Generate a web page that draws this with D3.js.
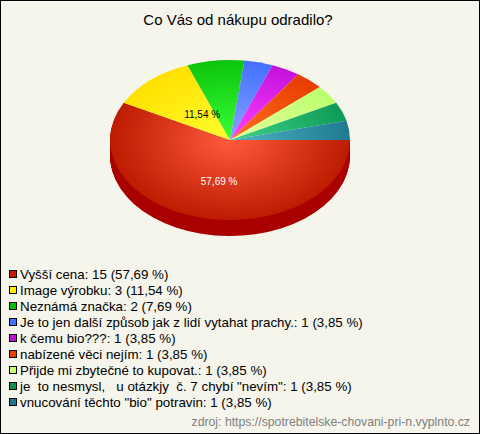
<!DOCTYPE html>
<html><head><meta charset="utf-8">
<script src="https://cdn.jsdelivr.net/npm/d3@7"></script>
<style>html,body{margin:0;padding:0;background:#f5f5ec}svg{display:block}text{font-family:"Liberation Sans",Arial,sans-serif}</style>
</head><body><svg id="c" width="480" height="434"></svg>
<script>
const titleText = "Co Vás od nákupu odradilo?";
const sourceText = "zdroj: https://spotrebitelske-chovani-pri-n.vyplnto.cz";
const categories = ["Vyšší cena","Image výrobku","Neznámá značka","Je to jen další způsob jak z lidí vytahat prachy.","k čemu bio???","nabízené věci nejím","Přijde mi zbytečné to kupovat.","je  to nesmysl,   u otázkjy  č. 7 chybí \"nevím\"","vnucování těchto \"bio\" potravin"];
const counts = [15,3,2,1,1,1,1,1,1];
const percents = ["57,69","11,54","7,69","3,85","3,85","3,85","3,85","3,85","3,85"];
const edgeColors = ["#bd1c00","#ffe000","#0cc40c","#4470ff","#c412dc","#e83c00","#bcff6c","#0e9a58","#1f7a90"];
const midColors = ["#ff5a3c","#ffff30","#38ff38","#84a4ff","#ff40ff","#ff7020","#e4ffa0","#40d488","#50b4c4"];
const swatchColors = ["#c01a00","#ffee00","#00c000","#4070ff","#c010d0","#e84000","#c8ff70","#109050","#207890"];
const sideColor = "#aa0000";
const labelled = [{i:0,fx:.38,fy:.53,fill:"#fff"},{i:1,fx:.35,fy:.42,fill:"#000"}];

const W=480,H=434,cx=230,cy=140,rx=120,ry=80,depth=16;
const svg=d3.select("#c");
svg.append("rect").attr("x",.5).attr("y",.5).attr("width",W-1).attr("height",H-1).attr("fill","#f5f5ec").attr("stroke","#000");
svg.append("text").attr("x",238).attr("y",25).attr("text-anchor","middle").attr("font-size",15).attr("fill","#000").text(titleText);

const defs=svg.append("defs");
categories.forEach((c,i)=>{
  const g=defs.append("radialGradient").attr("id","g"+i).attr("gradientUnits","userSpaceOnUse").attr("cx",0).attr("cy",0).attr("r",rx);
  g.append("stop").attr("offset","0").attr("stop-color",midColors[i]);
  g.append("stop").attr("offset","1").attr("stop-color",edgeColors[i]);
});
const pie=d3.pie().sort(null).startAngle(Math.PI/2).endAngle(Math.PI/2+2*Math.PI);
const arcs=pie(counts);
const arc=d3.arc().innerRadius(0).outerRadius(rx);
const sy=ry/rx;
const side=svg.append("g");
d3.range(depth,0,-1).forEach(d=>{
  side.append("g").attr("transform",`translate(${cx},${cy+d}) scale(1,${sy})`)
    .append("path").attr("d",arc(arcs[0])).attr("fill",sideColor);
});
svg.append("g").attr("transform",`translate(${cx},${cy}) scale(1,${sy})`)
  .selectAll("path").data(arcs).join("path").attr("d",arc).attr("fill",(d,i)=>`url(#g${i})`);

labelled.forEach(l=>{
  const a=arcs[l.i],m=(a.startAngle+a.endAngle)/2-Math.PI/2;
  svg.append("text").attr("x",cx+Math.cos(m)*rx*l.fx).attr("y",cy+Math.sin(m)*ry*l.fy+3.5)
    .attr("text-anchor","middle").attr("font-size",10).attr("fill",l.fill).text(percents[l.i]+" %");
});

const leg=svg.append("g").selectAll("g").data(categories).join("g").attr("transform",(d,i)=>`translate(0,${274+i*16})`);
leg.append("rect").attr("x",9.5).attr("y",-3.5).attr("width",7).attr("height",7).attr("fill",(d,i)=>swatchColors[i]).attr("stroke","#000").attr("stroke-width",1);
leg.append("text").attr("x",20).attr("y",5).attr("font-size",13.33).attr("fill","#000").text((d,i)=>`${d}: ${counts[i]} (${percents[i]} %)`).style("white-space","pre");
svg.append("text").attr("x",470).attr("y",426).attr("text-anchor","end").attr("font-size",12.25).attr("fill","#808080").text(sourceText);
</script></body></html>
